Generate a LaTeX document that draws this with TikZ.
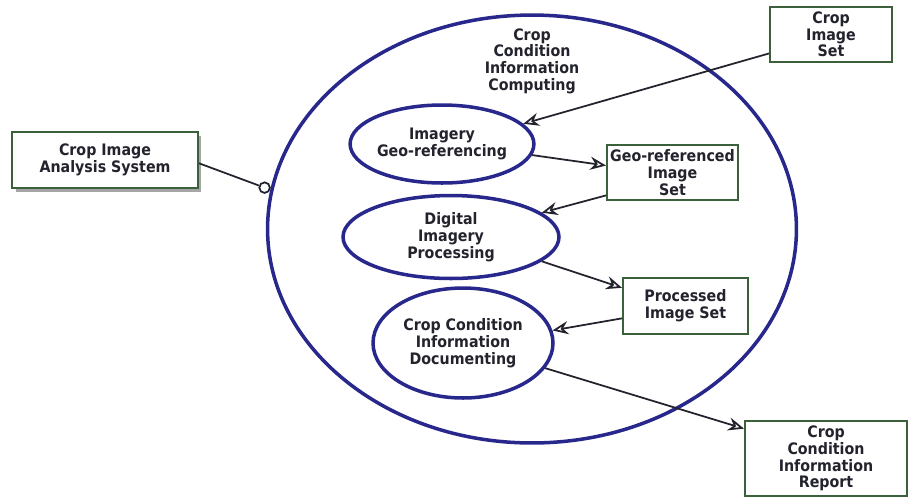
\documentclass[tikz,border=0pt]{standalone}
\usepackage{fontspec}
\setmainfont{DejaVu Sans}[FakeStretch=0.9]
\usetikzlibrary{arrows.meta,shapes,shadows}

\definecolor{casecol}{RGB}{40,40,140}
\definecolor{boxcol}{RGB}{60,95,60}
\definecolor{inkcol}{RGB}{35,35,45}

\tikzset{
  usecase/.style={ellipse, draw=casecol, line width=2pt, inner sep=0pt, align=center},
  thing/.style={rectangle, draw=boxcol, line width=1.2pt, inner sep=0pt, align=center, fill=white},
  flow/.style={draw=inkcol, line width=1pt, -{Stealth[open,length=9pt,width=7.5pt,inset=3pt]}},
  port/.style={circle, draw=inkcol, line width=1pt, fill=white, inner sep=0pt, minimum size=6pt},
}

\begin{document}
\begin{tikzpicture}[x=0.02cm, y=-0.02cm, text=inkcol,
    font=\fontsize{9}{9.5}\selectfont\bfseries]
   \useasboundingbox (0,0) rectangle (911,498);

   % the computing case and its parts
   \node[usecase, minimum width=10.58cm, minimum height=8.56cm] (computing) at (532,229) {};
   \node[align=center] (title) at (532,61) {Crop\\Condition\\Information\\Computing};
   \node[usecase, minimum width=3.6cm, minimum height=1.56cm] (georef) at (442,144) {Imagery\\Geo-referencing};
   \node[usecase, minimum width=4.32cm, minimum height=1.66cm] (digital) at (451,237) {Digital\\Imagery\\Processing};
   \node[usecase, minimum width=3.6cm, minimum height=2.2cm] (document) at (463,343) {Crop Condition\\Information\\Documenting};

   % the things that flow
   \node[thing, minimum width=3.72cm, minimum height=1.12cm,
         drop shadow={shadow xshift=2pt, shadow yshift=-2pt, fill=gray!70, opacity=1}]
         (analysis) at (105,160) {Crop Image\\Analysis System};
   \node[thing, minimum width=2.44cm, minimum height=1.1cm] (imgset) at (831,34.5) {Crop\\Image\\Set};
   \node[thing, minimum width=2.62cm, minimum height=1.1cm] (georefset) at (672.5,172.5) {Geo-referenced\\Image\\Set};
   \node[thing, minimum width=2.5cm, minimum height=1.12cm] (procset) at (685.5,306) {Processed\\Image Set};
   \node[thing, minimum width=3.24cm, minimum height=1.5cm] (report) at (826,458.5) {Crop\\Condition\\Information\\Report};

   \node[port, anchor=east] (port) at (computing.171) {};
   \draw[inkcol, line width=1pt] (analysis.-2) -- (port);

   \draw[flow] (imgset.197) -- (georef.14);
   \draw[flow] (georef.-7) -- (georefset.174);
   \draw[flow] (georefset.199) -- (digital.15);
   \draw[flow] (digital.-15) -- (procset.164);
   \draw[flow] (procset.191) -- (document.8);
   \draw[flow] (document.-17) -- (report.160);
\end{tikzpicture}
\end{document}
